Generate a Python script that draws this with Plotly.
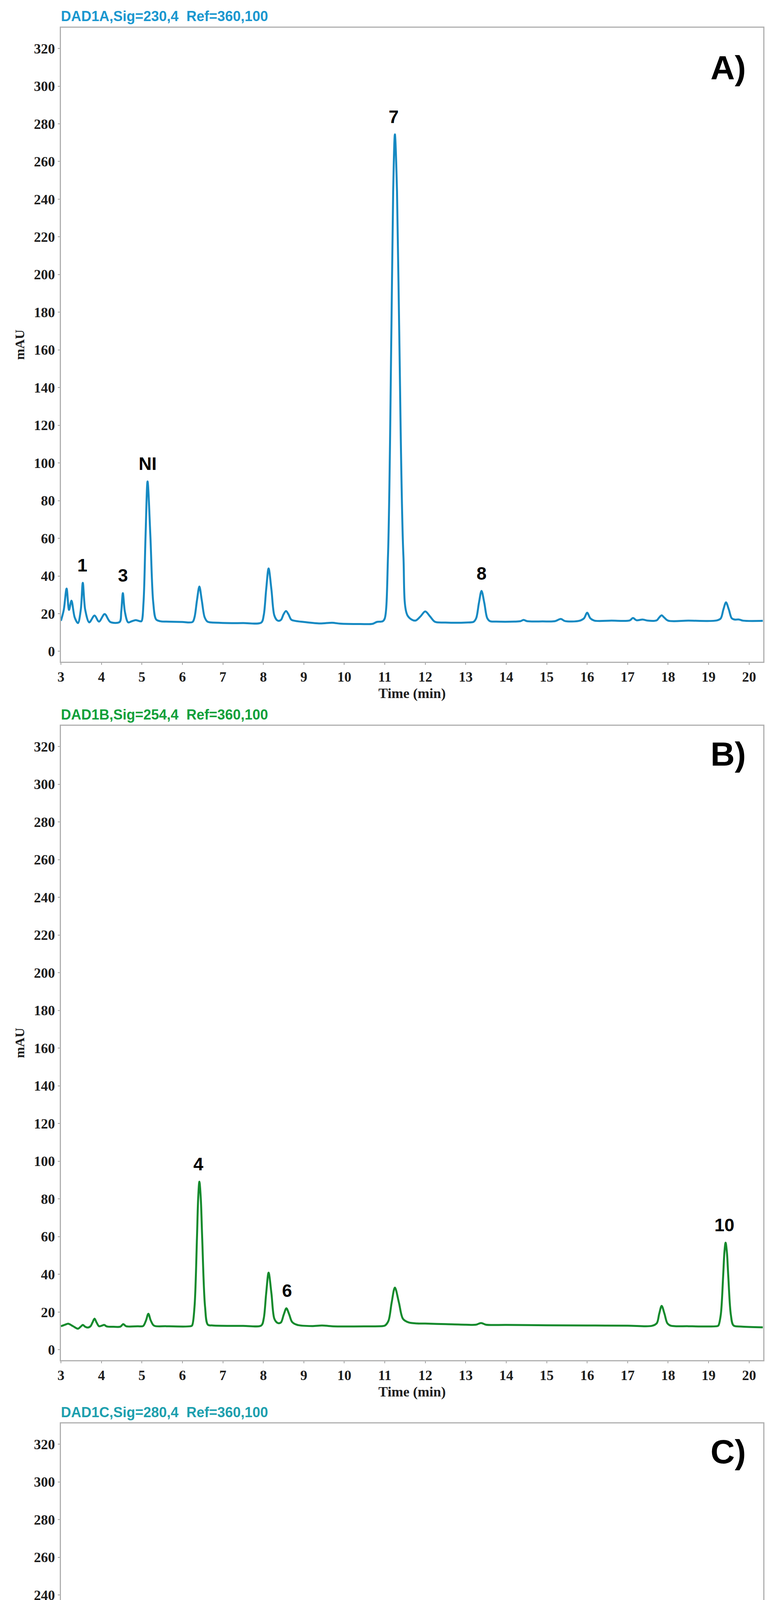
import plotly.graph_objects as go

# ---------------- data ----------------
a_time = [3.00, 3.07, 3.14, 3.20, 3.26, 3.34, 3.42, 3.49, 3.54, 3.60, 3.70, 3.83, 3.94, 4.08, 4.22,
          4.45, 4.49, 4.53, 4.58, 4.66, 4.75, 4.85, 4.95, 4.99, 5.04, 5.09, 5.14, 5.21, 5.28, 5.35,
          5.45, 5.60, 6.00, 6.25, 6.30, 6.36, 6.42, 6.48, 6.55, 6.62, 6.90, 7.50, 7.95, 8.01, 8.07,
          8.13, 8.20, 8.27, 8.34, 8.39, 8.44, 8.50, 8.56, 8.62, 8.69, 8.78, 9.00, 9.40, 9.70, 9.90,
          10.40, 10.70, 10.80, 10.95, 11.00, 11.08, 11.165, 11.2075, 11.25, 11.3025, 11.355, 11.46,
          11.565, 11.75, 11.88, 12.00, 12.12, 12.24, 12.50, 13.00, 13.195, 13.26, 13.325, 13.39,
          13.46, 13.53, 13.60, 13.75, 14.20, 14.35, 14.43, 14.52, 14.90, 15.20, 15.35, 15.45, 15.80,
          15.92, 16.00, 16.08, 16.18, 16.60, 17.05, 17.13, 17.22, 17.37, 17.50, 17.72, 17.78, 17.84,
          17.90, 18.00, 18.50, 19.20, 19.30, 19.365, 19.43, 19.50, 19.57, 19.64, 19.75, 19.85, 20.34]
a_mau = [16.2, 22.0, 33.3, 22.0, 26.9, 18.0, 15.0, 22.0, 36.4, 22.0, 15.4, 19.0, 15.8, 19.8, 15.6,
         15.6, 21.0, 30.9, 21.0, 15.4, 16.0, 16.6, 16.0, 16.0, 26.0, 61.0, 90.2, 61.0, 26.0, 17.0,
         16.0, 15.8, 15.6, 15.6, 18.1, 27.0, 34.4, 27.0, 18.1, 15.8, 15.2, 15.0, 15.3, 19.2, 32.8,
         44.0, 32.8, 19.2, 16.5, 16.2, 16.8, 19.7, 21.4, 19.7, 16.8, 16.2, 15.6, 14.8, 15.2, 14.7,
         14.5, 14.6, 15.6, 16.0, 17.5, 50.9, 172.8, 244.0, 274.4, 244.0, 172.8, 50.9,
         18.9, 16.3, 18.5, 21.2, 18.5, 15.7, 15.3, 15.3, 15.7, 17.7, 25.6, 32.1,
         25.6, 17.7, 16.0, 15.8, 15.8, 16.0, 16.7, 16.0, 15.9, 16.0, 17.2, 16.1, 16.2,
         17.5, 20.5, 17.5, 16.3, 16.3, 16.4, 17.7, 16.5, 16.9, 16.3, 16.5, 18.0, 19.1,
         18.0, 16.3, 16.3, 16.4, 17.5, 22.2, 26.0, 22.2, 17.6, 16.9, 16.9, 16.3, 16.2]

b_time = [3.00, 3.10, 3.18, 3.30, 3.42, 3.50, 3.54, 3.60, 3.66, 3.73, 3.78, 3.83, 3.88, 3.94, 4.01,
          4.07, 4.13, 4.30, 4.47, 4.54, 4.61, 4.90, 5.03, 5.10, 5.16, 5.22, 5.30, 5.60, 6.20, 6.24,
          6.30, 6.36, 6.39, 6.42, 6.455, 6.49, 6.56, 6.63, 6.75, 7.50, 7.95, 8.01, 8.07, 8.13, 8.20,
          8.27, 8.34, 8.39, 8.44, 8.505, 8.57, 8.64, 8.71, 8.84, 9.20, 9.45, 9.70, 10.50, 10.95,
          11.00, 11.09, 11.17, 11.25, 11.35, 11.45, 11.59, 11.80, 12.00, 12.50, 13.00, 13.25, 13.38,
          13.50, 14.00, 15.00, 16.00, 17.00, 17.60, 17.72, 17.78, 17.84, 17.91, 17.98, 18.06, 18.50,
          19.20, 19.24, 19.30, 19.36, 19.39, 19.42, 19.4525, 19.485, 19.55, 19.615, 19.80, 20.34]
b_mau = [12.5, 13.3, 13.8, 12.5, 11.2, 12.5, 13.2, 12.2, 11.8, 12.5, 14.5, 16.5, 14.5, 12.5, 12.8,
         13.2, 12.4, 12.2, 12.3, 13.6, 12.5, 12.5, 12.6, 15.5, 19.1, 15.5, 12.8, 12.5, 12.5, 12.9,
         22.9, 59.1, 80.2, 89.2, 80.2, 59.1, 22.9, 13.3, 12.9, 12.7, 12.9, 16.6, 29.9, 40.9, 29.9,
         16.6, 14.4, 14.1, 14.6, 18.7, 22.0, 18.7, 14.8, 13.2, 12.6, 12.9, 12.5, 12.4, 12.6,
         12.8, 15.3, 25.0, 33.0, 25.0, 16.4, 14.5, 14.0, 13.9, 13.6, 13.3, 13.3, 14.2,
         13.3, 13.2, 13.0, 12.9, 12.8, 12.7, 14.1, 19.1, 23.3, 19.1, 14.1, 12.8, 12.5,
         12.5, 12.8, 18.5, 39.4, 51.6, 56.8, 51.6, 39.4, 18.5, 12.9, 12.3, 11.9]

c_time = [3.00, 3.07, 3.14, 3.21, 3.26, 3.34, 3.42, 3.49, 3.54, 3.60, 3.68, 3.76, 3.83, 3.90, 3.96,
          4.07, 4.18, 4.30, 4.45, 4.49, 4.53, 4.58, 4.65, 4.80, 4.92, 5.01, 5.06, 5.11, 5.135, 5.16,
          5.1925, 5.225, 5.29, 5.355, 5.45, 6.00, 6.24, 6.30, 6.36, 6.42, 6.485, 6.55, 6.62, 7.00,
          7.95, 8.01, 8.07, 8.10, 8.13, 8.165, 8.20, 8.27, 8.34, 8.42, 8.49, 8.56, 8.63, 8.72, 8.81,
          9.50, 10.50, 10.85, 10.98, 11.08, 11.165, 11.2075, 11.25, 11.30, 11.35, 11.45, 11.55,
          11.72, 12.02, 12.21, 13.20, 13.32, 13.39, 13.46, 13.58, 14.35, 14.44, 14.53, 15.00, 15.90,
          16.00, 16.10, 17.05, 17.13, 17.25, 17.75, 17.84, 17.93, 18.10, 19.25, 19.30, 19.36, 19.42,
          19.485, 19.55, 19.62, 19.80, 20.34]
c_mau = [1.3, 3.5, 5.3, 3.5, 3.1, 1.5, 0.7, 2.5, 5.3, 2.5, 0.7, 1.3, 2.7, 1.4, 0.9,
         3.3, 1.0, 0.7, 1.0, 3.3, 6.6, 3.3, 0.9, 1.3, 1.1, 1.0, 8.9, 36.7, 52.9, 59.8,
         52.9, 36.7, 8.9, 1.6, 1.0, 0.9, 1.1, 3.2, 11.3, 17.9, 11.3, 3.2, 1.0, 0.7,
         1.3, 12.3, 51.9, 75.0, 85.0, 75.0, 51.9, 12.3, 3.5, 2.7, 3.8, 5.3, 3.8, 1.5, 1.0,
         0.4, 0.4, 0.9, 1.3, 25.8, 112.7, 163.4, 185.0, 163.4, 112.7, 25.8, 5.9,
         2.9, 2.6, 1.5, 1.3, 2.8, 3.9, 2.8, 1.0, 1.0, 2.6, 1.0, 0.9, 1.0,
         3.7, 1.0, 1.0, 1.5, 1.0, 1.0, 3.9, 1.0, 0.6, 0.7, 2.2, 7.3, 11.5,
         7.3, 2.2, 0.9, 0.7, 0.6]

# peak labels: text, time, apex value
a_labels = ["1", "3", "NI", "7", "8"]
a_label_t = [3.53, 4.53, 5.14, 11.22, 13.39]
a_label_v = [36.4, 30.9, 90.2, 274.4, 32.1]
b_labels = ["4", "6", "10"]
b_label_t = [6.40, 8.59, 19.39]
b_label_v = [89.2, 22.0, 56.8]
c_labels = ["5"]
c_label_t = [8.13]
c_label_v = [85.0]

signal_titles = ["DAD1A,Sig=230,4\u00a0\u00a0Ref=360,100",
                 "DAD1B,Sig=254,4\u00a0\u00a0Ref=360,100",
                 "DAD1C,Sig=280,4\u00a0\u00a0Ref=360,100"]
panel_tags = ["A)", "B)", "C)"]

x_ticks = list(range(3, 21))
y_ticks = list(range(0, 321, 20))

# ---------------- styling / layout ----------------
W, H = 2002, 5401
ML, MR, MT, MB = 148, 56, 63, 140
PW, PH = W - ML - MR, H - MT - MB

def yp(px):
    return 1 - (px - MT) / PH

def xp(px):
    return (px - ML) / PW

panel_px = [(63, 1686), (1850, 3474), (3636, 5261)]
line_colors = ["#1589c2", "#148a2c", "#0f8a8e"]
title_colors = ["#1a97cf", "#10a03a", "#1d9fae"]
tag_center_px = [165, 1922, 3708]

series = [(a_time, a_mau), (b_time, b_mau), (c_time, c_mau)]
labels = [(a_labels, a_label_t, a_label_v), (b_labels, b_label_t, b_label_v),
          (c_labels, c_label_t, c_label_v)]

fig = go.Figure()
annotations = []
layout_axes = {}

for i in range(3):
    sfx = "" if i == 0 else str(i + 1)
    t, v = series[i]
    fig.add_trace(go.Scatter(
        x=t, y=v, mode="lines", xaxis="x" + sfx, yaxis="y" + sfx,
        line=dict(color=line_colors[i], width=5, shape="spline", smoothing=0.9),
        showlegend=False, hoverinfo="x+y"))
    top_px, bot_px = panel_px[i]
    axis_common = dict(showline=True, mirror=True, linecolor="#b0b0b0", linewidth=3,
                       showgrid=False, zeroline=False, ticks="outside", ticklen=5,
                       tickwidth=2, tickcolor="#a0a0a0",
                       tickfont=dict(family="Liberation Serif", size=36, color="#1e1e1e",
                                     weight="bold"))
    layout_axes["xaxis" + sfx] = dict(
        axis_common, domain=[0, 1], anchor="y" + sfx, range=[3, 20.35],
        tickmode="array", tickvals=x_ticks, ticktext=[str(k) for k in x_ticks],
        title=dict(text="Time (min)", standoff=10,
                   font=dict(family="Liberation Serif", size=36, color="#1e1e1e",
                             weight="bold")))
    layout_axes["yaxis" + sfx] = dict(
        axis_common, domain=[yp(bot_px), yp(top_px)], anchor="x" + sfx,
        range=[-5.5, 331], tickmode="array", tickvals=y_ticks,
        ticktext=[str(k) for k in y_ticks],
        title=dict(text="mAU", standoff=14,
                   font=dict(family="Liberation Serif", size=34, color="#1e1e1e",
                             weight="bold")))
    # signal title above the frame
    annotations.append(dict(
        text=signal_titles[i], xref="paper", yref="paper",
        x=xp(146), y=yp(top_px - 29), xanchor="left", yanchor="middle",
        showarrow=False,
        font=dict(family="Liberation Sans", size=36, color=title_colors[i], weight="bold")))
    # panel tag
    annotations.append(dict(
        text=panel_tags[i], xref="paper", yref="paper",
        x=xp(1904), y=yp(tag_center_px[i]), xanchor="right", yanchor="middle",
        showarrow=False,
        font=dict(family="Liberation Sans", size=86, color="#000000", weight="bold")))
    # peak labels
    txts, lt, lv = labels[i]
    for s, tt, vv in zip(txts, lt, lv):
        annotations.append(dict(
            text=s, x=tt, y=vv, xref="x" + sfx, yref="y" + sfx,
            xanchor="center", yanchor="bottom", yshift=17, showarrow=False,
            font=dict(family="Liberation Sans", size=46, color="#000000", weight="bold")))

fig.update_layout(
    width=W, height=H,
    margin=dict(l=ML, r=MR, t=MT, b=MB, pad=0),
    paper_bgcolor="white", plot_bgcolor="white",
    annotations=annotations,
    **layout_axes)

fig.write_html("out.html")
